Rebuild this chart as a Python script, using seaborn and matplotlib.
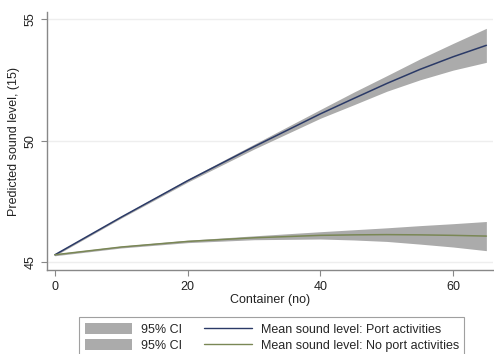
import pandas as pd
import matplotlib
matplotlib.use("Agg")
import matplotlib.pyplot as plt
import seaborn as sns
from matplotlib.patches import Patch
from matplotlib.lines import Line2D

# valores
containers = [0, 10, 20, 30, 40, 45, 50, 55, 60, 65]

port_mean = [45.3, 46.85, 48.35, 49.75, 51.1, 51.73, 52.35, 52.93, 53.45, 53.92]
port_lower = [45.26, 46.81, 48.29, 49.65, 50.92, 51.47, 52.03, 52.5, 52.9, 53.22]
port_upper = [45.34, 46.89, 48.41, 49.85, 51.28, 51.99, 52.67, 53.36, 54.0, 54.62]

noport_mean = [45.3, 45.62, 45.85, 46.0, 46.1, 46.12, 46.13, 46.12, 46.1, 46.07]
noport_lower = [45.26, 45.58, 45.8, 45.92, 45.95, 45.91, 45.85, 45.74, 45.62, 45.47]
noport_upper = [45.34, 45.66, 45.9, 46.08, 46.25, 46.33, 46.41, 46.5, 46.58, 46.67]

series_labels = ["Mean sound level: Port activities", "Mean sound level: No port activities"]
ci_label = "95% CI"
x_ticks = [0, 20, 40, 60]
y_ticks = [45, 50, 55]

df = pd.DataFrame({
    "container": containers * 2,
    "level": port_mean + noport_mean,
    "series": [series_labels[0]] * len(containers) + [series_labels[1]] * len(containers),
})

sns.set_style("white")
plt.rcParams["font.family"] = ["Liberation Sans", "DejaVu Sans"]

line_colors = ["#2b3a67", "#7a8755"]
ci_color = "#ababab"

fig = plt.figure(figsize=(4.94, 3.54), dpi=100)
ax = fig.add_axes([0.095, 0.237, 0.903, 0.729])

ax.fill_between(containers, port_lower, port_upper, color=ci_color, lw=0)
ax.fill_between(containers, noport_lower, noport_upper, color=ci_color, lw=0)
sns.lineplot(data=df, x="container", y="level", hue="series", palette=line_colors,
             linewidth=1.1, ax=ax, legend=False)

ax.set_xlim(-1.2, 66)
ax.set_ylim(44.67, 55.29)
ax.set_xticks(x_ticks)
ax.set_yticks(y_ticks)
ax.yaxis.grid(True, color="#eeeeee", lw=1)
ax.set_axisbelow(True)
for s in ["top", "right"]:
    ax.spines[s].set_visible(False)
for s in ["left", "bottom"]:
    ax.spines[s].set_color("#888888")
    ax.spines[s].set_linewidth(1.0)
ax.tick_params(axis="both", direction="out", length=4, width=0.8, color="#888888",
               labelsize=9, labelcolor="#222222", bottom=True, left=True)
plt.setp(ax.get_yticklabels(), rotation=90, va="center")

ax.set_xlabel("Container (no)", fontsize=9, color="#222222", labelpad=1)
ax.set_ylabel("Predicted sound level, (15)", fontsize=9, color="#222222", labelpad=3)

handles = [
    Patch(facecolor=ci_color, edgecolor="none"),
    Patch(facecolor=ci_color, edgecolor="none"),
    Line2D([0], [0], color=line_colors[0], lw=1.0),
    Line2D([0], [0], color=line_colors[1], lw=1.0),
]
labels = [ci_label, ci_label, series_labels[0], series_labels[1]]
leg = fig.legend(handles, labels, ncol=2, loc="upper center", bbox_to_anchor=(0.55, 0.122),
                 fontsize=9, frameon=True, fancybox=False, handlelength=3.8, handleheight=1.0,
                 handletextpad=0.7, columnspacing=1.8, borderpad=0.45, labelspacing=0.25)
leg.get_frame().set_edgecolor("#888888")
leg.get_frame().set_linewidth(0.8)

fig.savefig("out.png", dpi=100, facecolor="white")
